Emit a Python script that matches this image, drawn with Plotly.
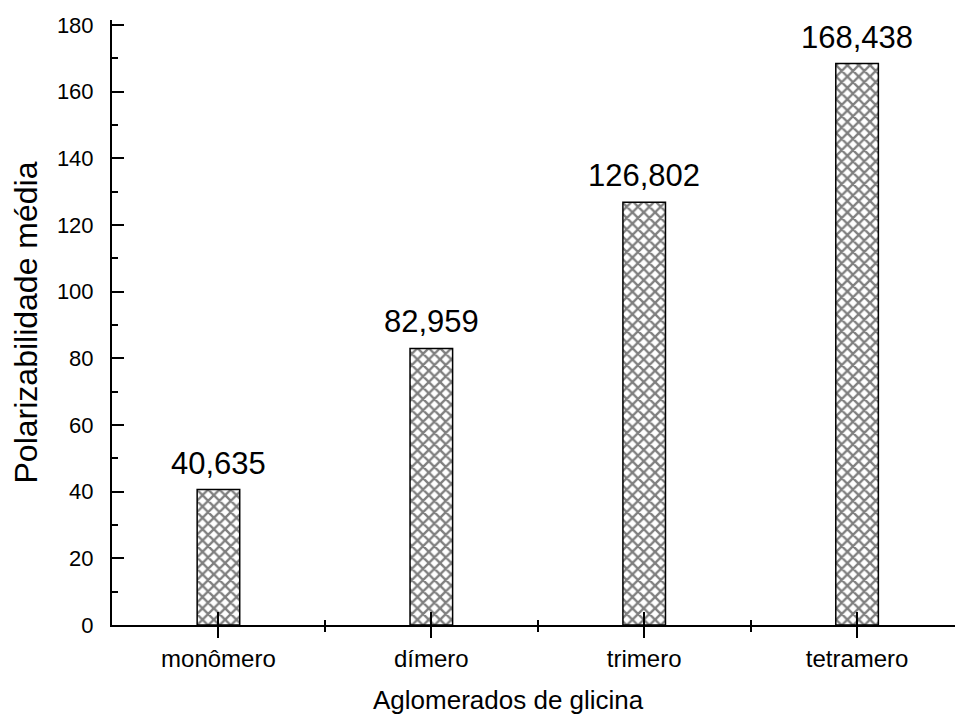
import plotly.graph_objects as go

# Mean polarizability of glycine clusters
categories = ["monômero", "dímero", "trimero", "tetramero"]
polarizability = [40.635, 82.959, 126.802, 168.438]
y_ticks = [0, 20, 40, 60, 80, 100, 120, 140, 160, 180]

positions = list(range(len(categories)))
font_family = "Liberation Sans, Arial, sans-serif"


def pt_decimal(v):
    # three decimals with a comma as decimal separator
    return f"{v:.3f}".replace(".", ",")


fig = go.Figure()
fig.add_trace(go.Bar(
    x=positions,
    y=polarizability,
    width=0.2,
    marker=dict(
        color="white",
        line=dict(color="black", width=1.5),
        pattern=dict(shape="x", fgcolor="black", bgcolor="white", size=8, solidity=0.5),
    ),
    showlegend=False,
    hovertemplate="%{y}<extra></extra>",
))

# invisible trace on the overlay axis so its inward ticks are drawn
fig.add_trace(go.Scatter(x=positions, y=polarizability, xaxis="x2", mode="none",
                         showlegend=False, hoverinfo="skip"))

value_labels = [
    dict(x=p, y=v, xref="x", yref="y", text=pt_decimal(v), showarrow=False,
         xanchor="center", yanchor="bottom", yshift=7,
         font=dict(size=31, color="black"))
    for p, v in zip(positions, polarizability)
]

x_range = [-0.5, 3.46]

fig.update_layout(
    width=955, height=715,
    margin=dict(l=112, r=0, t=20, b=90),
    paper_bgcolor="white", plot_bgcolor="white",
    font=dict(family=font_family, color="black"),
    xaxis=dict(
        range=x_range,
        tickmode="array", tickvals=positions, ticktext=categories,
        ticks="outside", ticklen=11, tickwidth=2, tickcolor="black",
        minor=dict(tickmode="array", tickvals=[0.5, 1.5, 2.5], ticks="outside",
                   ticklen=5, tickwidth=2, tickcolor="black"),
        showline=True, linecolor="black", linewidth=2,
        showgrid=False, zeroline=False,
        tickfont=dict(size=24),
    ),
    xaxis2=dict(
        overlaying="x", range=x_range, matches="x",
        tickmode="array", tickvals=positions,
        ticks="inside", ticklen=13, tickwidth=2, tickcolor="black",
        minor=dict(tickmode="array", tickvals=[0.5, 1.5, 2.5], ticks="inside",
                   ticklen=5, tickwidth=2, tickcolor="black"),
        showticklabels=False, showline=False, showgrid=False, zeroline=False,
        side="bottom",
    ),
    yaxis=dict(
        range=[0, 181.5],
        tickmode="array", tickvals=y_ticks,
        ticks="inside", ticklen=12, tickwidth=2, tickcolor="black",
        minor=dict(dtick=10, ticks="inside", ticklen=6, tickwidth=2, tickcolor="black"),
        showline=True, linecolor="black", linewidth=2,
        showgrid=False, zeroline=False,
        tickfont=dict(size=22),
        ticklabelstandoff=12,
        title=dict(text="Polarizabilidade média", font=dict(size=32), standoff=10),
    ),
    annotations=value_labels + [dict(
        text="Aglomerados de glicina", xref="paper", yref="paper",
        x=0.47, y=0, yshift=-92, xanchor="center", yanchor="bottom",
        showarrow=False, font=dict(size=26),
    )],
)

fig.write_html("out.html")
